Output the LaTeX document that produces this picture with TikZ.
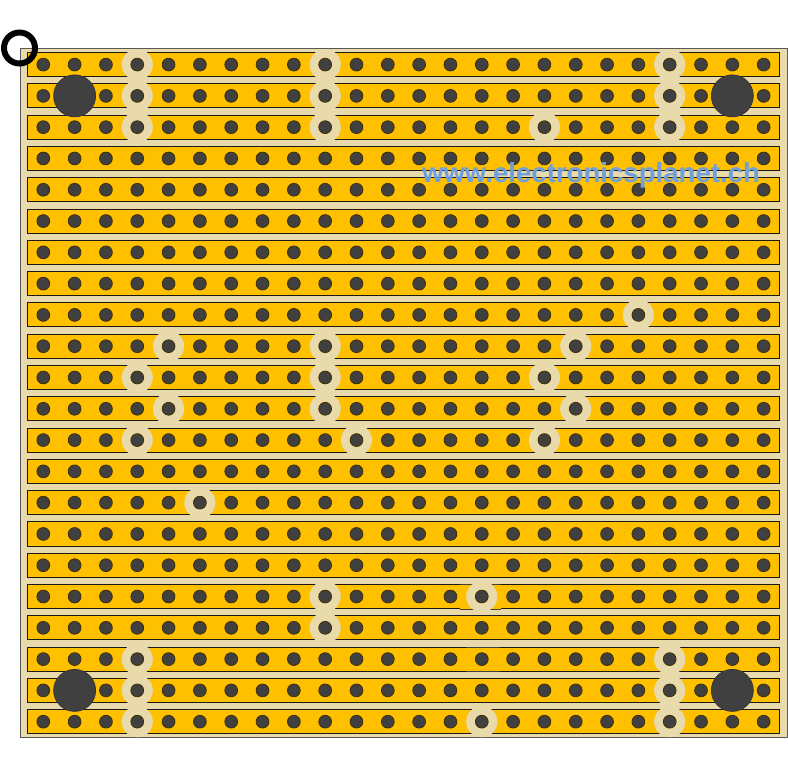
\documentclass[tikz,border=0pt]{standalone}
\usepackage{fontspec}
\setsansfont{Liberation Sans}
\usepackage{xcolor}
\definecolor{boardcol}{HTML}{E8DAAA}
\definecolor{stripcol}{HTML}{FFC000}
\definecolor{holecol}{HTML}{404040}
\definecolor{webcol}{HTML}{6F9FDD}

\begin{document}
\begin{tikzpicture}[x=1pt,y=-1pt,
    board/.style={fill=boardcol,draw=black!65,line width=1pt},
    strip/.style={fill=stripcol,draw=black!90,line width=0.9pt},
    patch/.style={fill=stripcol},
    patchedge/.style={draw=black!75,line width=0.9pt},
    cut/.style={fill=boardcol},
    hole/.style={fill=holecol,draw=black!75!stripcol,line width=0.8pt},
    mount/.style={fill=holecol,draw=black!80,line width=0.7pt}]
    \useasboundingbox (0,0) rectangle (788,767);
    % Placa
    \draw[board] (20,48.5) rectangle (787,737.5);
    % Trilhas
    \foreach \r in {0,...,21}
        \draw[strip] (27.5,{52.6+31.29*\r}) rectangle (779,{76.6+31.29*\r});
    % Emendas
    \fill[patch] (460,584.6) rectangle (501,609);
    \draw[patchedge] (460,584.6) -- (501,584.6) (460,609) -- (501,609);
    \fill[patch] (466,647.3) rectangle (500,671.2);
    \draw[patchedge] (466,647.3) -- (500,647.3) (466,671.2) -- (500,671.2);
    \begin{scope}[shift={(43.3,64.6)},x=31.32pt,y=-31.29pt]
        % Cortes
        \foreach \c/\r in {3/0,9/0,20/0,3/1,9/1,20/1,3/2,9/2,16/2,20/2,
            19/8,4/9,9/9,17/9,3/10,9/10,16/10,4/11,9/11,17/11,3/12,10/12,16/12,
            5/14,9/17,14/17,9/18,3/19,20/19,3/20,20/20,3/21,14/21,20/21}
            \fill[cut] (\c,\r) circle (15.6pt);
        % Furos
        \foreach \r in {0,...,21}
            \foreach \c in {0,...,23}
                \filldraw[hole] (\c,\r) circle (6.4pt);
        % Fixacao
        \foreach \c/\r in {1/1,22/1,1/20,22/20}
            \filldraw[mount] (\c,\r) circle (21pt);
    \end{scope}
    % Texto e marca
    \node[text=webcol,font=\sffamily\bfseries\fontsize{27.6}{28}\selectfont,inner sep=0pt] (site) at (591,175) {www.electronicsplanet.ch};
    \draw[black,line width=6pt] (19.5,48) circle (15.5pt);
\end{tikzpicture}
\end{document}
